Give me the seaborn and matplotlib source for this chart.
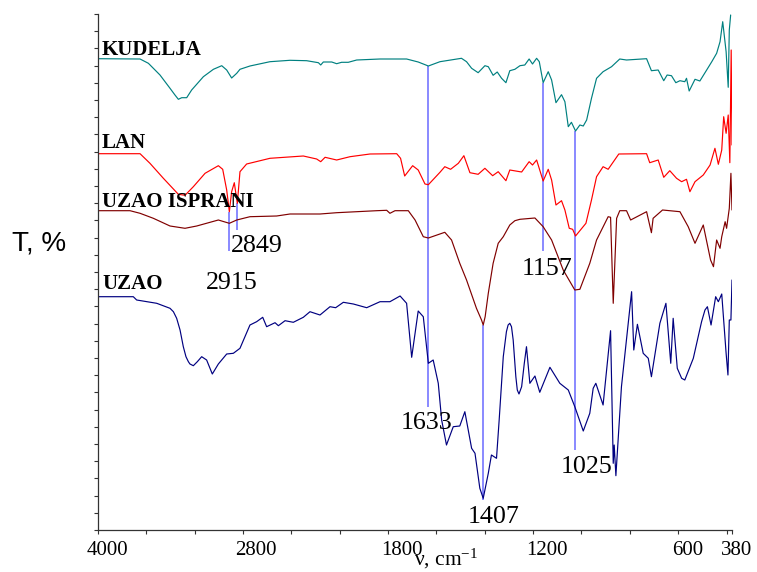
import numpy as np
import pandas as pd
import matplotlib
matplotlib.use('Agg')
import matplotlib.pyplot as plt
import seaborn as sns
from matplotlib.ticker import FixedLocator, NullFormatter
from matplotlib.transforms import ScaledTranslation

# FTIR spektri: talasni broj i T (relativna skala, ocitano sa slike)
kudelja_wn = [4000, 3652, 3583, 3487, 3404, 3363, 3335, 3307, 3266, 3225, 3128, 3045, 2976, 2935, 2894, 2852, 2825,
              2752, 2614, 2476, 2361, 2280, 2264, 2246, 2188, 2154, 2120, 2074, 2016, 1855, 1723, 1675, 1633,
              1585, 1496, 1475, 1454, 1427, 1399, 1385, 1365, 1348, 1330, 1312, 1296, 1275, 1254, 1234, 1216,
              1202, 1185, 1174, 1158, 1137, 1123, 1105, 1082, 1068, 1054, 1041, 1024, 1006, 992, 978, 958, 937,
              910, 875, 841, 813, 730, 710, 682, 659, 645, 627, 609, 592, 572, 565, 554, 530, 510, 482, 461, 441,
              427, 416, 402, 394, 390, 385]
kudelja_t = [471.3, 471, 466.7, 455, 441.7, 435, 430.7, 432.3, 432.3, 440, 453.3, 460.7, 464.3, 460, 452, 456.7, 460.7,
             464, 468.3, 469.7, 469.3, 467.3, 465, 468, 468, 466.3, 467.7, 467.7, 470, 471, 471, 468, 464,
             468.3, 471.7, 468.3, 461.7, 457.3, 464.3, 463.3, 454.7, 458, 451.7, 447.3, 459.3, 460.7, 464.3, 465, 471,
             466, 471.7, 468.3, 447.3, 458.3, 450, 427.3, 435.3, 428.3, 403.3, 407.7, 399, 405, 404, 410, 431.7, 451.7,
             458.3, 463.3, 471, 470, 471.3, 459.3, 460, 449.3, 455, 454.3, 447.3, 449.3, 448.3, 451.7, 439, 450.7, 449, 460, 468.3, 476.7,
             488.3, 508.3, 478.3, 442.7, 500, 515]

lan_wn = [4000, 3652, 3570, 3459, 3335, 3280, 3211, 3114, 3004, 2968, 2935, 2913, 2894, 2872, 2847, 2825, 2775,
          2614, 2384, 2292, 2264, 2234, 2154, 2062, 1924, 1764, 1748, 1731, 1698, 1675, 1647, 1633,
          1585, 1565, 1541, 1509, 1486, 1461, 1427, 1399, 1367, 1344, 1312, 1296, 1247, 1216, 1202, 1185,
          1158, 1137, 1123, 1105, 1082, 1068, 1050, 1036, 1024, 981, 958, 937, 910, 889, 845, 730, 717, 682,
          659, 634, 606, 585, 565, 551, 530, 496, 468, 448, 434, 420, 412, 402, 394, 388, 383, 380]
lan_t = [376.3, 376.3, 366.7, 351.7, 335.7, 334.7, 343.3, 356.7, 364.3, 360.7, 340, 318.3, 338.3, 347.3, 326.7, 358.3, 366,
         371.7, 374, 371, 368.3, 372.7, 370, 373.3, 376, 376.3, 371.7, 354, 364.3, 360, 346, 345.3,
         357.7, 363.3, 360.7, 366.7, 374.3, 357.3, 355.7, 361.7, 354.3, 358.3, 349.3, 360, 358, 368.3, 365, 370,
         349, 360.7, 350, 325, 329.3, 320, 301.7, 300.7, 294, 306.7, 330, 353.3, 363.3, 360.7, 376, 376.3, 367.3, 370,
         352.7, 359.3, 351.7, 348.3, 350.7, 338.3, 348.3, 355, 365, 381.7, 365.7, 380, 413.3, 396.7, 415, 367.3, 480, 385]

isprani_wn = [4000, 3735, 3652, 3542, 3404, 3280, 3183, 3004, 2913, 2852, 2752, 2568, 2476, 2269, 2154, 1878, 1809,
              1792, 1771, 1716, 1688, 1654, 1633, 1565, 1537, 1503, 1475, 1434, 1413, 1406, 1398, 1385, 1365, 1344, 1323,
              1296, 1275, 1254, 1192,
              1158, 1123, 1075, 1027, 1006, 965, 937, 889, 879, 868, 854, 841, 813, 796, 730, 710, 703, 664, 592,
              558, 530, 496, 466, 454, 441, 427, 420, 406, 400, 390, 384, 380]
isprani_t = [319.3, 319.3, 316.7, 311.7, 304, 301.7, 304, 310, 306.7, 310, 313.3, 314, 316, 316, 317.3, 319.3, 319.7,
             316.7, 319.3, 319.3, 310, 293.3, 292, 297.7, 290, 266.7, 250, 221.7, 210, 205, 213.3, 236.7, 266.7, 286.7, 293.3,
             305, 309.3, 310.7, 312,
             303.3, 290, 260, 240, 240.7, 266.7, 290, 313.3, 312.7, 226.7, 311.7, 319.3, 319.3, 310, 318.3, 297.3, 311.7, 320, 318.3,
             303.3, 286.7, 305, 270, 263.3, 290, 281.7, 293.3, 308.3, 301.7, 321.7, 356.7, 320]

uzao_wn = [4000, 3708, 3680, 3514, 3404, 3376, 3349, 3321, 3294, 3272, 3252, 3239, 3211, 3178, 3142, 3101, 3054, 3004,
           2935, 2880, 2825, 2752, 2706,
           2664, 2637, 2579, 2556, 2510, 2453, 2384, 2338, 2269, 2200, 2161, 2108, 2039, 1947, 1855, 1792, 1750, 1723,
           1702, 1675, 1654, 1633, 1613, 1592, 1578, 1558, 1530, 1503, 1482, 1454, 1440, 1420, 1406, 1385, 1372, 1351,
           1340, 1323, 1310, 1303, 1296, 1289, 1282, 1271, 1265, 1258, 1247, 1236, 1227, 1213, 1192, 1172, 1130, 1089,
           1054, 1027, 992, 965, 951, 940, 910, 879, 868,
           864, 857, 834, 792, 783, 768, 744, 723, 710, 675, 650, 630, 620, 603, 585, 572, 537, 503, 489, 479, 464,
           445, 434, 420, 402, 395, 390, 384, 380]
uzao_t = [233.3, 233.3, 230, 226.7, 221.7, 218.3, 211.7, 200, 183.3, 173.3, 168.3, 166, 164.3, 168.3, 173.3, 170, 156, 166,
          176, 176.7, 181.7, 205, 208.3,
          212.7, 203.3, 207.3, 204.3, 209.3, 207.7, 212.7, 218.3, 215, 223.3, 222.3, 227.7, 226, 222.3, 228.3, 228.3, 234, 226.7,
          172.7, 219, 213.3, 166.7, 170, 146.7, 110, 85, 103.3, 104, 118.3, 81.7, 76.7, 41.7, 31.7, 56.7, 75, 71.7,
          110, 173.3, 198.3, 205, 206.7, 203.3, 190, 153.3, 140, 136, 143.3, 166.7, 183.3, 146.7, 154, 137.7, 162.7, 146.7,
          140, 123.3, 99, 116.7, 141.7, 146.7, 125, 199.3, 66.7,
          85, 54.3, 143.3, 238.3, 180, 205.7, 176.7, 171.7, 153.3, 206.7, 226.7, 166.7, 211.7, 161.7, 151.7, 150, 171.7, 208.3, 220, 223.3, 205,
          233.3, 228.3, 236, 176.7, 155, 210, 210, 250]

# trake na karakteristicnim pikovima
peak_wn = [2915, 2849, 1633, 1407, 1157, 1025]
peak_top = [318, 327, 464, 205, 447, 399]
peak_bottom = [279, 300, 123, 30, 279, 80]

series_names = ['KUDELJA', 'LAN', 'UZAO ISPRANI', 'UZAO']
series_colors = ['#008080', '#ff0000', '#800000', '#000080']

major_wn = [4000, 2800, 1800, 1200, 600, 380]
minor_wn = [3600, 3200, 2467, 2133, 1600, 1400, 1000, 800, 400]
tick_text = ['4000', '2800', '1800', '1200', '600', '380']
tick_shift = [9, 13, 14, 14, 10, 5]

# osa x je po delovima linearna
scale_wn = [380, 400, 600, 1200, 1800, 2800, 4000]
scale_pos = [0.0, 5.4, 54, 199, 344, 489, 634]


def forward(v):
    return np.interp(v, scale_wn, scale_pos)


def inverse(v):
    return np.interp(v, scale_pos, scale_wn)


frames = []
for name, wn, t in zip(series_names,
                       [kudelja_wn, lan_wn, isprani_wn, uzao_wn],
                       [kudelja_t, lan_t, isprani_t, uzao_t]):
    frames.append(pd.DataFrame({'wn': wn, 'T': t, 'uzorak': name}))
df = pd.concat(frames, ignore_index=True)

sns.set_style('ticks', rc={'text.color': 'black', 'axes.labelcolor': 'black',
                           'xtick.color': 'black', 'ytick.color': 'black'})
plt.rcParams['font.family'] = ['Liberation Serif', 'DejaVu Serif']
plt.rcParams['mathtext.default'] = 'regular'

fig = plt.figure(figsize=(7.57, 5.72), dpi=100)
ax = fig.add_axes([98 / 757, 42 / 572, 634 / 757, 516 / 572])

ax.vlines(peak_wn, peak_bottom, peak_top, color='#6a6aff', lw=1.1, zorder=1)

sns.lineplot(data=df, x='wn', y='T', hue='uzorak', palette=series_colors, hue_order=series_names,
             estimator=None, sort=False, units='uzorak', lw=0.85, legend=False, ax=ax, zorder=2)

ax.set_xscale('function', functions=(forward, inverse))
ax.set_xlim(4000, 380)
ax.set_ylim(0, 516)
ax.xaxis.set_major_locator(FixedLocator(major_wn))
ax.xaxis.set_minor_locator(FixedLocator(minor_wn))
ax.xaxis.set_minor_formatter(NullFormatter())
ax.set_xticklabels(tick_text, fontsize=15)
ax.set_yticks(np.arange(0, 31) * 17.2)
ax.set_yticklabels([])
ax.tick_params(axis='both', which='both', length=3, width=0.8, color='#333333')
ax.tick_params(axis='x', which='major', pad=5)
for lab, dx in zip(ax.get_xticklabels(), tick_shift):
    lab.set_transform(lab.get_transform() + ScaledTranslation(dx / 100, 0, fig.dpi_scale_trans))
sns.despine(ax=ax)
for s in ['left', 'bottom']:
    ax.spines[s].set_linewidth(0.9)
    ax.spines[s].set_color('#333333')

ax.set_xlabel('ν, cm$^{-1}$', fontsize=15.5)
ax.xaxis.set_label_coords(446 / 757, 1 - 559 / 572, transform=fig.transFigure)
ax.xaxis.label.set_va('center')
ax.set_ylabel('T, %', fontsize=20, family='Liberation Sans', rotation=0, ha='left', va='center')
ax.yaxis.set_label_coords(12 / 757, 1 - 243 / 572, transform=fig.transFigure)


def label(x, y, s, **kw):
    fig.text(x / 757, 1 - y / 572, s, va='center', **kw)


for s, y in zip(series_names, [50, 143, 202, 284]):
    label(102, y, s, fontsize=15, fontweight='bold', ha='left', color='black')
for s, x, y in [('2849', 257, 246), ('2915', 232, 283), ('1157', 547, 269),
                ('1633', 427, 423), ('1025', 587, 467), ('1407', 494, 517)]:
    label(x, y, s, fontsize=18.7, ha='center', color='black')

fig.savefig('out.png', dpi=100)
